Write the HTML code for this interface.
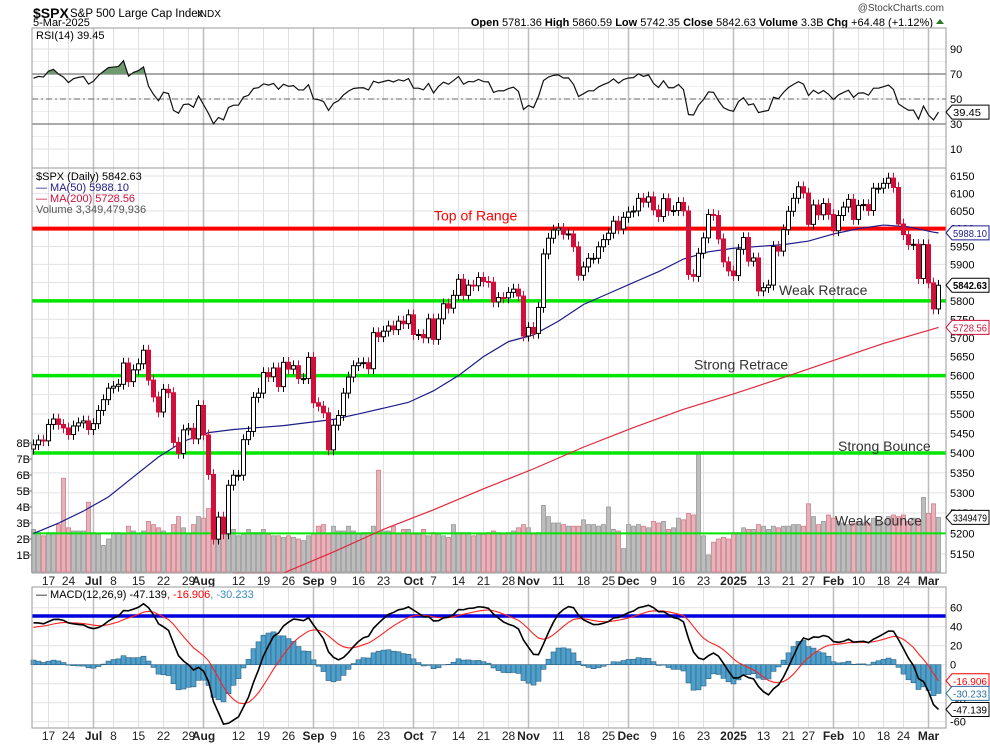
<!DOCTYPE html>
<html><head><meta charset="utf-8"><style>
body{margin:0;background:#fff}
svg{display:block;font-family:"Liberation Sans",sans-serif}
</style></head><body>
<svg id="c" width="990" height="744" viewBox="0 0 990 744">
<rect width="990" height="744" fill="#fff"/>
<text x="33" y="18" font-size="14" font-weight="bold">$SPX</text>
<text x="70" y="17" font-size="11.5">S&amp;P 500 Large Cap Index</text>
<text x="197" y="17" font-size="10">INDX</text>
<text x="33" y="26" font-size="11">5-Mar-2025</text>
<text x="944" y="11" font-size="10" text-anchor="end" fill="#444">@StockCharts.com</text>
<text x="933" y="26" font-size="11" text-anchor="end"><tspan font-weight="bold">Open</tspan> 5781.36  <tspan font-weight="bold">High</tspan> 5860.59  <tspan font-weight="bold">Low</tspan> 5742.35  <tspan font-weight="bold">Close</tspan> 5842.63  <tspan font-weight="bold">Volume</tspan> 3.3B  <tspan font-weight="bold">Chg</tspan> +64.48 (+1.12%)</text>
<polygon points="936,24 944,24 940,19" fill="#2a7a2a"/>
<g id="grid"></g>
<g id="marks"></g>
<g id="over"></g>
</svg>
<script>
const closes=[5421,5433,5431,5473,5487,5473,5464,5447,5469,5477,5482,5460,
5475,5509,5537,5567,5572,5577,5633,5584,5615,5631,5667,5588,5544,5505,5564,5555,5427,5399,5459,5463,5436,5522,
5446,5346,5186,5240,5199,5319,5344,5344,5434,5455,5543,5554,5608,5597,5620,5571,5635,5617,5626,5592,5592,5648,
5529,5520,5503,5408,5471,5496,5554,5596,5626,5633,5634,5618,5714,5703,5718,5732,5722,5745,5738,5762,
5709,5709,5700,5751,5696,5751,5792,5780,5815,5859,5815,5843,5841,5864,5853,5851,5797,5809,5808,5823,5832,5813,5705,
5728,5712,5782,5929,5973,5996,6001,5984,5985,5949,5870,5893,5917,5917,5949,5969,5987,6021,5999,6032,
6047,6050,6086,6075,6090,6053,6034,6085,6051,6051,6074,6050,5872,5867,5931,5974,6040,6037,5971,5907,5882,
5869,5942,5975,5909,5918,5827,5836,5843,5950,5937,5997,6049,6086,6119,6101,6012,6067,6039,6071,6040,
5994,6037,6061,6083,6026,6066,6068,6051,6115,6115,6129,6144,6117,6013,5983,5955,5956,5861,5955,
5849,5778,5842.63];
const volumes=[2.6,2.4,2.2,2.4,2.4,2.9,5.8,2.7,2.5,2.5,2.5,4.3,
2.4,2.3,1.6,2.0,2.4,2.4,2.3,2.8,2.5,2.3,2.5,3.1,2.9,2.7,2.5,2.3,2.9,3.4,2.7,2.3,2.9,3.4,
3.3,3.9,4.0,3.0,2.6,2.6,2.6,2.2,2.3,2.6,2.4,2.4,2.6,2.3,2.2,2.2,2.1,2.2,2.1,2.0,1.9,2.2,
2.3,2.8,2.9,2.3,2.8,2.5,2.5,2.8,2.5,2.3,2.4,2.4,2.8,6.3,2.5,2.5,2.8,2.3,2.6,2.6,
2.3,2.3,2.6,2.2,2.4,2.3,2.2,2.1,2.9,2.4,2.4,2.4,2.2,2.3,2.3,2.4,2.5,2.4,2.3,2.4,2.5,2.7,2.9,
2.7,2.3,2.4,4.1,3.4,3.0,3.0,2.9,2.8,2.8,2.8,3.2,2.9,2.9,2.8,2.9,4.0,2.6,2.5,1.4,
2.9,2.8,2.9,2.8,2.7,3.1,3.0,3.1,2.6,2.7,3.3,3.2,3.6,3.5,7.3,2.2,1.0,1.8,2.0,2.1,2.0,
2.4,2.4,2.7,2.6,2.6,2.9,2.8,2.6,2.8,2.7,2.8,2.8,2.9,2.9,2.8,4.2,3.4,2.9,3.1,3.5,
3.3,3.1,3.0,2.9,3.0,3.1,3.0,3.0,3.3,3.2,3.0,3.4,3.5,3.4,3.5,3.1,3.3,3.2,4.6,
3.6,4.2,3.35];
const ma50Idx=[0,5,10,15,20,25,30,35,40,45,50,55,60,65,70,75,80,85,90,95,100,105,110,115,120,125,130,135,140,145,150,155,160,165,170,175,180,181];
const ma50Val=[5200,5225,5255,5290,5340,5390,5430,5452,5460,5465,5470,5478,5486,5500,5515,5530,5560,5600,5650,5690,5708,5745,5790,5820,5850,5880,5915,5935,5945,5950,5955,5965,5985,6000,6010,6005,5990,5988];
const ma200Idx=[40,50,60,70,80,90,100,110,120,130,140,150,160,170,181];
const ma200Val=[5050,5100,5155,5210,5258,5310,5360,5415,5465,5512,5552,5595,5640,5685,5728];
const levelPrices=[6000,5800,5600,5400,5200];
const levelNames=["Top of Range","Weak Retrace","Strong Retrace","Strong Bounce","Weak Bounce"];
const priceTicks=[6150,6100,6050,6000,5950,5900,5850,5800,5750,5700,5650,5600,5550,5500,5450,5400,5350,5300,5250,5200,5150];
const volTicks=[1,2,3,4,5,6,7,8];
const rsiTicks=[90,70,50,30,10];
const macdTicks=[60,40,20,0,-20,-40,-60];
const dateLabels=["17","24","Jul","8","15","22","29","Aug","12","19","26","Sep","9","16","23","Oct","7","14","21","28","Nov","11","18","25","Dec","9","16","23","2025","13","21","27","Feb","10","18","24","Mar"];
const dateIdx=[3,7,12,16,21,26,31,34,41,46,51,56,60,65,70,76,80,85,90,95,99,105,110,115,119,124,129,134,140,146,151,155,160,165,170,174,179];

const NS="http://www.w3.org/2000/svg";
const L=32,R=946;
const X=i=>33.5+5*i;
const PY=p=>554-2130*Math.log(p/5150);
const VY=v=>571-16*v;
const RY=r=>99-1.25*(r-50);
const MY=m=>664.7-0.95*m;
function el(tag,attrs,parent){const e=document.createElementNS(NS,tag);for(const k in attrs)e.setAttribute(k,attrs[k]);parent.appendChild(e);return e;}
const grid=document.getElementById('grid'),marks=document.getElementById('marks'),over=document.getElementById('over');
const panels=[[28,168],[168,573],[587,728]];
priceTicks.forEach(p=>{const l=el('line',{x1:L,x2:R,y1:PY(p),y2:PY(p),stroke:'#e2e2e2'},grid);


const t=el('text',{x:950,y:PY(p)+4,'font-size':11},over);t.textContent=p;

});
rsiTicks.forEach(r=>{const l=el('line',{x1:L,x2:R,y1:RY(r),y2:RY(r),stroke:'#e2e2e2'},grid);


const t=el('text',{x:950,y:RY(r)+4,'font-size':11},over);t.textContent=r;

});
[20,40,60,80].forEach(r=>{el('line',{x1:L,x2:R,y1:RY(r),y2:RY(r),stroke:'#eeeeee'},grid);});
macdTicks.forEach(m=>{const l=el('line',{x1:L,x2:R,y1:MY(m),y2:MY(m),stroke:'#e2e2e2'},grid);


const t=el('text',{x:950,y:MY(m)+4,'font-size':11},over);t.textContent=m;

});
volTicks.forEach(v=>{const t=el('text',{x:30,y:VY(v)+4,'font-size':11,'text-anchor':'end'},over);t.textContent=v+'B';


el('line',{x1:29,x2:L,y1:VY(v),y2:VY(v),stroke:'#666'},over);});
dateIdx.forEach((d,k)=>{const x=X(d);const month=isNaN(+dateLabels[k])||dateLabels[k]==='2025';
panels.forEach(([a,b])=>{const l=el('line',{x1:x,x2:x,y1:a,y2:b,stroke:month?'#bdbdbd':'#e0e0e0','stroke-width':month?1.5:1},grid);

});
[585,740].forEach(y=>{const t=el('text',{x:x,y:y,'font-size':12,'text-anchor':'middle','font-weight':month?'bold':'normal',fill:'#222'},over);t.textContent=dateLabels[k];

});});
panels.forEach(([a,b])=>{const r=el('rect',{x:L,y:a,width:R-L,height:b-a,fill:'none',stroke:'#9a9a9a'},over);

});
let ag=14,al=7;const rsi=[];
closes.forEach((c,i)=>{if(i>0){const d=c-closes[i-1];ag=(ag*13+Math.max(d,0))/14;al=(al*13+Math.max(-d,0))/14;}rsi.push(100-100/(1+ag/al));});
[70,30].forEach(r=>{const l=el('line',{x1:L,x2:R,y1:RY(r),y2:RY(r),stroke:'#555'},marks);

});
const mid=el('line',{x1:L,x2:R,y1:RY(50),y2:RY(50),stroke:'#666','stroke-dasharray':'6,3,2,3'},marks);


const cp=el('clipPath',{id:'above70'},marks);el('rect',{x:L,y:28,width:R-L,height:RY(70)-28},cp);
const rpts=rsi.map((r,i)=>X(i)+','+RY(r)).join(' ');
const fill=el('polygon',{points:X(0)+','+RY(70)+' '+rpts+' '+X(rsi.length-1)+','+RY(70),fill:'#6f9a6f','clip-path':'url(#above70)'},marks);


const rl=el('polyline',{points:rpts,fill:'none',stroke:'#111','stroke-width':1.2},marks);


closes.forEach((c,i)=>{const up=i===0||c>=closes[i-1];const v=volumes[i];
const b=el('rect',{x:X(i)-2,y:VY(v),width:4,height:572-VY(v),fill:up?'#bdbdbd':'#e6b3bb',stroke:up?'#999':'#d27d8a','stroke-width':0.8},marks);

});
levelPrices.forEach((p,k)=>{const w=k===0?4:(k===4?2:3.5);
const l=el('line',{x1:L,x2:R,y1:PY(p),y2:PY(p),stroke:k===0?'#ff0000':'#00e600','stroke-width':w},marks);

});
const lblPos=[[434,-8],[779,-6],[694,-6],[838,-2],[835,-8]];
levelNames.forEach((n,k)=>{const t=el('text',{x:lblPos[k][0],y:PY(levelPrices[k])+lblPos[k][1],'font-size':14,fill:k===0?'#ff0000':'#333'},over);t.textContent=n;

});
function poly(idx,val,color,name){const l=el('polyline',{points:idx.map((d,k)=>X(d)+','+Math.min(PY(val[k]),573)).join(' '),fill:'none',stroke:color,'stroke-width':1.2},marks);

}
poly(ma200Idx,ma200Val,'#e0283c','ma200-line');
poly(ma50Idx,ma50Val,'#1c1c8c','ma50-line');
closes.forEach((c,i)=>{const o=i===0?5410:closes[i-1];const up=c>=o;
const top=PY(Math.max(o,c)),bot=PY(Math.min(o,c));const col=up?'#000':'#d0103a';
const w=el('line',{x1:X(i),x2:X(i),y1:PY(Math.max(o,c)*1.0025),y2:PY(Math.min(o,c)*0.9975),stroke:col},marks);


const b=el('rect',{x:X(i)-2,y:top,width:4,height:Math.max(bot-top,1),fill:up?'#fff':'#d0103a',stroke:col,'stroke-width':1},marks);

});
let e12=5390,e26=5345,sg=38;const macd=[],sig=[];
closes.forEach((c,i)=>{e12+= (c-e12)*2/13;e26+=(c-e26)*2/27;const m=e12-e26;sg+=(m-sg)*0.2;macd.push(m);sig.push(sg);});
const bl=el('line',{x1:L,x2:R,y1:616,y2:616,stroke:'#0000dd','stroke-width':3.5},marks);


macd.forEach((m,i)=>{const h=m-sig[i];const b=el('rect',{x:X(i)-2.5,y:Math.min(MY(h),MY(0)),width:5,height:Math.abs(MY(h)-MY(0)),fill:'#4f9fcb',stroke:'#2a5f80','stroke-width':0.6},marks);

});
const sl=el('polyline',{points:sig.map((s,i)=>X(i)+','+MY(s)).join(' '),fill:'none',stroke:'#ff2020','stroke-width':1.1},marks);


const ml=el('polyline',{points:macd.map((m,i)=>X(i)+','+MY(m)).join(' '),fill:'none',stroke:'#000','stroke-width':1.6},marks);


function tag(y,txt,col,bold,name){const g=el('g',{},over);


el('polygon',{points:`946,${y} 952,${y-7} 989,${y-7} 989,${y+7} 952,${y+7}`,fill:'#fff',stroke:col},g);
const t=el('text',{x:953,y:y+4,'font-size':10.5,fill:col,'font-weight':bold?'bold':'normal',textLength:Math.min(34,txt.length*5.6),lengthAdjust:'spacingAndGlyphs'},g);t.textContent=txt;}
tag(RY(rsi[rsi.length-1]),'39.45','#000',false,'rsi-value-tag');
tag(PY(ma50Val[ma50Val.length-1]),'5988.10','#1c1c8c',false,'ma50-value-tag');
tag(PY(closes[closes.length-1]),'5842.63','#000',true,'close-value-tag');
tag(PY(ma200Val[ma200Val.length-1]),'5728.56','#d0103a',false,'ma200-value-tag');
tag(VY(volumes[volumes.length-1]),'3349479','#000',false,'volume-value-tag');
tag(MY(sig[sig.length-1]),'-16.906','#ff0000',false,'signal-value-tag');
tag(MY(macd[macd.length-1]-sig[sig.length-1]),'-30.233','#2a6fa0',false,'histogram-value-tag');
tag(MY(macd[macd.length-1]),'-47.139','#000',false,'macd-value-tag');
function lg(x,y,parts,name){const t=el('text',{x:x,y:y,'font-size':11},over);


parts.forEach(([s,c])=>{const sp=el('tspan',{fill:c},t);sp.textContent=s;});}
lg(36,39,[['RSI(14) 39.45','#000']],'rsi-legend');
lg(36,180,[['$SPX (Daily) 5842.63','#000']],'price-legend');
lg(36,191,[['— MA(50) 5988.10','#1c1c8c']],'ma50-legend');
lg(36,202,[['— MA(200) 5728.56','#d0103a']],'ma200-legend');
lg(36,213,[['Volume 3,349,479,936','#555']],'volume-legend');
lg(36,598,[['— MACD(12,26,9) -47.139','#000'],[', -16.906','#ff0000'],[', -30.233','#3a8fc0']],'macd-legend');
</script>
</body></html>
